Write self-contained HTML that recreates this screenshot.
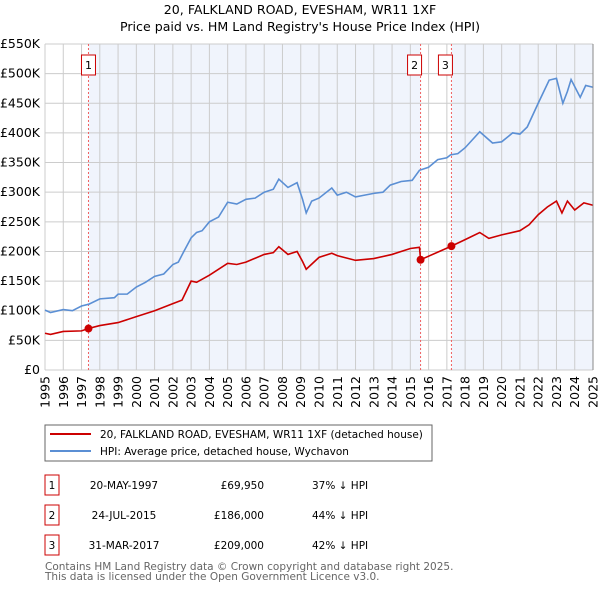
<!DOCTYPE html>
<html><head><meta charset="utf-8">
<style>
body{margin:0;background:#fff;font-family:"DejaVu Sans","Liberation Sans",sans-serif;}
svg text{font-family:"DejaVu Sans","Liberation Sans",sans-serif;}
</style></head>
<body>
<svg id="c" width="600" height="590" xmlns="http://www.w3.org/2000/svg">
<text x="300" y="14" text-anchor="middle" font-size="12.6" fill="#000">20, FALKLAND ROAD, EVESHAM, WR11 1XF</text>
<text x="300" y="31" text-anchor="middle" font-size="12.6" fill="#000">Price paid vs. HM Land Registry's House Price Index (HPI)</text>
<g id="plot"></g>
<rect x="45" y="425" width="387" height="36" fill="#fff" stroke="#666"/>
<line x1="50" y1="434" x2="91" y2="434" stroke="#cc0000" stroke-width="2"/>
<text x="100" y="438" font-size="10.5">20, FALKLAND ROAD, EVESHAM, WR11 1XF (detached house)</text>
<line x1="50" y1="451" x2="91" y2="451" stroke="#5b8fd4" stroke-width="2"/>
<text x="100" y="455" font-size="10.5">HPI: Average price, detached house, Wychavon</text>
<g id="tbl" font-size="10.5"></g>
<text x="45" y="570" font-size="10.5" fill="#666">Contains HM Land Registry data © Crown copyright and database right 2025.</text>
<text x="45" y="580" font-size="10.5" fill="#666">This data is licensed under the Open Government Licence v3.0.</text>
</svg>
<script>
const hpiYears=[1995,1995.3,1996,1996.5,1997,1997.4,1998,1998.8,1999,1999.5,2000,2000.5,2001,2001.5,2002,2002.3,2002.6,2003,2003.3,2003.6,2004,2004.5,2005,2005.5,2006,2006.5,2007,2007.5,2007.8,2008.3,2008.8,2009.1,2009.3,2009.6,2010,2010.7,2011,2011.5,2012,2012.5,2013,2013.5,2013.9,2014.5,2015.1,2015.5,2016,2016.5,2017,2017.2,2017.6,2018,2018.8,2019.5,2020,2020.6,2021,2021.4,2022,2022.6,2023,2023.35,2023.6,2023.8,2024,2024.3,2024.6,2025];
const hpiValues=[101,97,102,100,108,111,120,122,128,128,140,148,158,162,178,182,200,223,232,235,250,258,283,280,288,290,300,305,322,308,316,288,265,285,290,307,295,300,292,295,298,300,312,318,320,337,342,355,358,363,365,375,402,383,385,400,398,410,450,489,492,450,470,490,478,460,480,477];
const ppYears=[1995,1995.3,1996,1997,1997.38,1998,1999,2000,2001,2002,2002.5,2003,2003.3,2004,2005,2005.5,2006,2007,2007.5,2007.8,2008.3,2008.8,2009.1,2009.3,2010,2010.7,2011,2012,2013,2014,2015,2015.5,2015.56,2016,2017.25,2018,2018.8,2019.3,2020,2021,2021.5,2022,2022.5,2023,2023.3,2023.6,2024,2024.5,2025];
const ppValues=[62,60,65,66,69.95,75,80,90,100,112,118,150,148,160,180,178,182,195,198,208,195,200,183,170,190,197,193,185,188,195,205,207,186,192,209,220,232,222,228,235,245,262,275,285,265,285,270,282,278];
const saleYears=[1997.38,2015.56,2017.25];
const salePrices=[69.95,186,209];
const saleLabels=["1","2","3"];
const yTicks=[0,50,100,150,200,250,300,350,400,450,500,550];
const yTickLabels=["£0","£50K","£100K","£150K","£200K","£250K","£300K","£350K","£400K","£450K","£500K","£550K"];
const xTicks=[1995,1996,1997,1998,1999,2000,2001,2002,2003,2004,2005,2006,2007,2008,2009,2010,2011,2012,2013,2014,2015,2016,2017,2018,2019,2020,2021,2022,2023,2024,2025];
const tblDates=["20-MAY-1997","24-JUL-2015","31-MAR-2017"];
const tblPrices=["£69,950","£186,000","£209,000"];
const tblHpi=["37% ↓ HPI","44% ↓ HPI","42% ↓ HPI"];

const X0=45,X1=593,Y0=370,Y1=44;
const xs=y=>X0+(y-1995)/30*(X1-X0);
const ys=v=>Y0-v/550*(Y0-Y1);
const NS="http://www.w3.org/2000/svg";
const g=document.getElementById('plot');
function mk(t,a,p){const e=document.createElementNS(NS,t);for(const k in a)e.setAttribute(k,a[k]);(p||g).appendChild(e);return e;}

let e=mk('rect',{x:xs(saleYears[0]),y:Y1,width:xs(saleYears[1])-xs(saleYears[0]),height:Y0-Y1,fill:'#f0f4fc'});


e=mk('rect',{x:xs(saleYears[2]),y:Y1,width:X1-xs(saleYears[2]),height:Y0-Y1,fill:'#f0f4fc'});



yTicks.forEach((v,i)=>{
  let l=mk('line',{x1:X0,x2:X1,y1:ys(v),y2:ys(v),stroke:'#ccc','stroke-width':1});
  
  
  let t=mk('text',{x:40,y:ys(v)+4,'text-anchor':'end','font-size':12.5});
  t.textContent=yTickLabels[i];
  
  
});
xTicks.forEach(yr=>{
  let l=mk('line',{x1:xs(yr),x2:xs(yr),y1:Y1,y2:Y0,stroke:'#ccc','stroke-width':1});
  
  
  let t=mk('text',{x:0,y:0,'text-anchor':'end','font-size':12.5,transform:`translate(${xs(yr)+4.5},376) rotate(-90)`});
  t.textContent=yr;
  
  
});

saleYears.forEach((yr,i)=>{
  let l=mk('line',{x1:xs(yr),x2:xs(yr),y1:Y1,y2:Y0,stroke:'#f06060','stroke-width':1,'stroke-dasharray':'2,2'});
  
  
  let bx=xs(yr)-(i==0?7:13);
  let r=mk('rect',{x:bx,y:55,width:14,height:20,fill:'#fff',stroke:'#cc0000'});
  
  
  let t=mk('text',{x:bx+7,y:69,'text-anchor':'middle','font-size':11});
  t.textContent=saleLabels[i];
  
  
});

let hp=mk('polyline',{points:hpiYears.map((y,i)=>xs(y)+','+ys(hpiValues[i])).join(' '),fill:'none',stroke:'#5b8fd4','stroke-width':1.6});


let pp=mk('polyline',{points:ppYears.map((y,i)=>xs(y)+','+ys(ppValues[i])).join(' '),fill:'none',stroke:'#cc0000','stroke-width':1.6});


saleYears.forEach((yr,i)=>{
  let c=mk('circle',{cx:xs(yr),cy:ys(salePrices[i]),r:4,fill:'#cc0000'});
  
  
});
let ax=mk('line',{x1:X1,x2:X1,y1:Y1,y2:Y0,stroke:'#888'});



const tb=document.getElementById('tbl');
[0,1,2].forEach(i=>{
  const cy=485+i*30;
  let r=mk('rect',{x:45,y:cy-10,width:14,height:20,fill:'#fff',stroke:'#cc0000'},tb);
  
  
  let t=mk('text',{x:52,y:cy+4,'text-anchor':'middle'},tb);t.textContent=saleLabels[i];
  
  
  t=mk('text',{x:124,y:cy+4,'text-anchor':'middle'},tb);t.textContent=tblDates[i];
  
  
  t=mk('text',{x:264,y:cy+4,'text-anchor':'end'},tb);t.textContent=tblPrices[i];
  
  
  t=mk('text',{x:312,y:cy+4},tb);t.textContent=tblHpi[i];
  
  
});
</script>
</body></html>
